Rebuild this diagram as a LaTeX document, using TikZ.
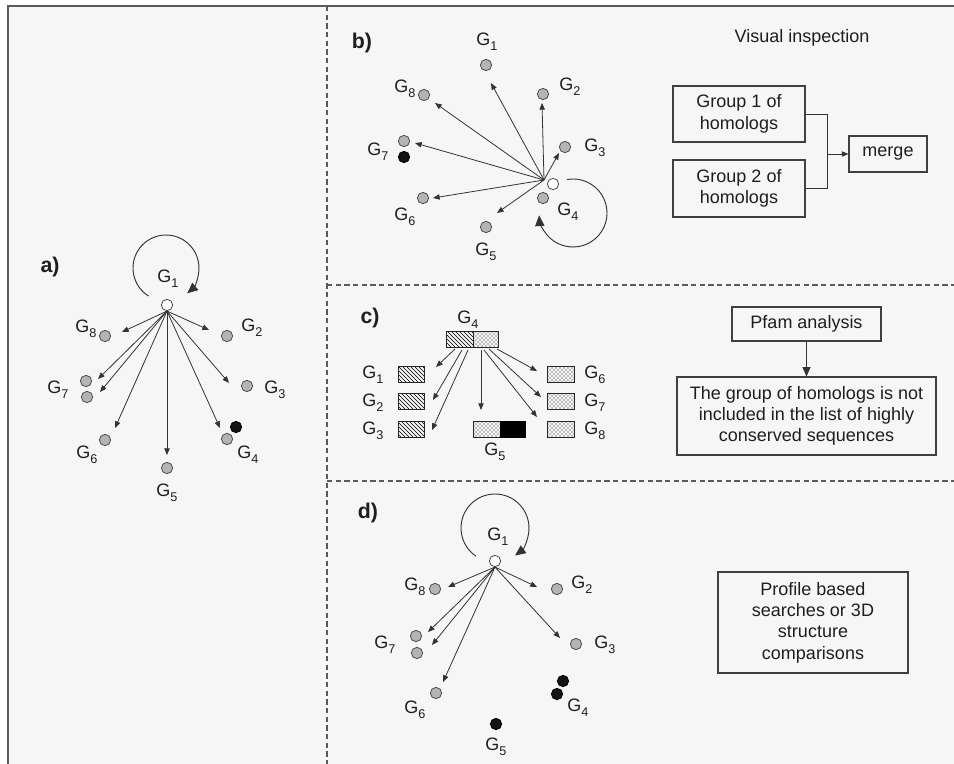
\documentclass[tikz,border=0pt]{standalone}
\usepackage{fontspec}
\setmainfont{Liberation Sans}
\usetikzlibrary{arrows.meta,patterns}
\definecolor{bgc}{HTML}{F6F6F6}
\definecolor{linec}{HTML}{333333}
\definecolor{framec}{HTML}{5A5A5A}
\definecolor{dotgray}{HTML}{B4B4B4}
\definecolor{txt}{HTML}{1E1E1E}
\newcommand{\gsub}[1]{G\raisebox{-0.5ex}{\fontsize{9.5}{9.5}\selectfont #1}}
\begin{document}
\begin{tikzpicture}[x=0.75pt,y=-0.75pt,
  gnode/.style={circle,draw=black!70,fill=dotgray,line width=0.6pt,minimum size=8.5pt,inner sep=0pt},
  bnode/.style={circle,draw=black,fill=black!92,line width=0.6pt,minimum size=8.5pt,inner sep=0pt},
  wnode/.style={circle,draw=black!70,fill=white,line width=0.6pt,minimum size=8.5pt,inner sep=0pt},
  glabel/.style={font=\fontsize{13.5}{13.5}\selectfont,inner sep=0pt,text=txt},
  plabel/.style={font=\fontsize{16}{16}\selectfont\bfseries,inner sep=0pt,text=txt},
  arr/.style={draw=linec,line width=0.6pt,-{Triangle[length=5pt,width=4pt]}},
  looparr/.style={draw=linec,line width=0.7pt,-{Triangle[length=8pt,width=7pt]}},
  box/.style={draw=black!75,line width=0.8pt,fill=bgc,align=center,inner sep=0pt,text=txt,font=\fontsize{13.5}{16}\selectfont},
  divider/.style={draw=framec,line width=0.8pt,dash pattern=on 4pt off 2.5pt},
  hatchbox/.style={draw=black!85,line width=0.6pt,pattern=north west lines,pattern color=black,minimum height=12pt,inner sep=0pt},
  dotbox/.style={draw=black!85,line width=0.6pt,pattern=crosshatch dots,pattern color=black,minimum height=12pt,inner sep=0pt},
  blackbox/.style={draw=black,line width=0.6pt,fill=black,minimum height=12pt,inner sep=0pt},
]
\useasboundingbox (0,0) rectangle (954,764);
\fill[white] (0,0) rectangle (954,764);
\fill[bgc] (8,6) rectangle (954,764);
\draw[framec,line width=1.5pt] (8,764) -- (8,6) -- (954,6);
\draw[divider] (327,6) -- (327,764);
\draw[divider] (327,285) -- (954,285);
\draw[divider] (327,481) -- (954,481);

% ---------------- panel a
\node[plabel] (la) at (50,267) {a)};
\node[glabel] (la1) at (168,279) {\gsub{1}};
\node[wnode] (a1) at (167,305) {};
\node[gnode] (a8) at (105,336) {};
\node[gnode] (a2) at (227,336) {};
\node[gnode] (a7) at (86,381) {};
\node[gnode] (a7b) at (87,397) {};
\node[gnode] (a3) at (247,386) {};
\node[gnode] (a6) at (105,440) {};
\node[gnode] (a4) at (227,439) {};
\node[bnode] (a4b) at (236,427) {};
\node[gnode] (a5) at (167,468) {};
\node[glabel] (la8) at (86,329) {\gsub{8}};
\node[glabel] (la2) at (252,328) {\gsub{2}};
\node[glabel] (la7) at (58,390) {\gsub{7}};
\node[glabel] (la3) at (275,390) {\gsub{3}};
\node[glabel] (la6) at (87,455) {\gsub{6}};
\node[glabel] (la4) at (248,455) {\gsub{4}};
\node[glabel] (la5) at (167,493) {\gsub{5}};
\coordinate (ta8) at (122,332);
\coordinate (ta2) at (209,330);
\coordinate (ta7) at (98,379);
\coordinate (ta7b) at (100,392);
\coordinate (ta6) at (115,428);
\coordinate (ta5) at (167,455);
\coordinate (ta4) at (220,428);
\coordinate (ta3) at (229,383);
\foreach \t in {ta8,ta2,ta7,ta7b,ta6,ta5,ta4,ta3} \draw[arr] (a1.south) -- (\t);
\coordinate (ca) at (166,268);
\draw[looparr] ([shift={(122:33)}]ca) arc[start angle=122,end angle=410,radius=33];

% ---------------- panel b
\node[plabel] (lb) at (362,43) {b)};
\node[wnode] (bw) at (553,184) {};
\coordinate (bo) at (544,180);
\node[gnode] (b1) at (486,65) {};
\node[gnode] (b8) at (424,95) {};
\node[gnode] (b2) at (543,94) {};
\node[gnode] (b7) at (404,141) {};
\node[bnode] (b7b) at (404,157) {};
\node[gnode] (b3) at (565,147) {};
\node[gnode] (b4) at (543,198) {};
\node[gnode] (b6) at (423,198) {};
\node[gnode] (b5) at (486,227) {};
\node[glabel] (lb1) at (487,42) {\gsub{1}};
\node[glabel] (lb8) at (405,89) {\gsub{8}};
\node[glabel] (lb2) at (570,87) {\gsub{2}};
\node[glabel] (lb7) at (378,152) {\gsub{7}};
\node[glabel] (lb3) at (595,148) {\gsub{3}};
\node[glabel] (lb4) at (568,212) {\gsub{4}};
\node[glabel] (lb6) at (405,217) {\gsub{6}};
\node[glabel] (lb5) at (486,252) {\gsub{5}};
\coordinate (tb1) at (491,83);
\coordinate (tb2) at (542,103);
\coordinate (tb8) at (435,103);
\coordinate (tb7) at (415,143);
\coordinate (tb3) at (559,153);
\coordinate (tb6) at (433,198);
\coordinate (tb5) at (497,213);
\foreach \t in {tb1,tb2,tb8,tb7,tb3,tb6,tb5} \draw[arr] (bo) -- (\t);
\coordinate (cb) at (573,213);
\draw[looparr] ([shift={(-100:34)}]cb) arc[start angle=-100,end angle=176,radius=34];

\node[text=txt,font=\fontsize{13.5}{16}\selectfont,inner sep=0pt] (vis) at (802,38) {Visual inspection};
\node[box,minimum width=99pt,minimum height=42pt] (grp1) at (739,114) {Group 1 of\\homologs};
\node[box,minimum width=99pt,minimum height=42.75pt] (grp2) at (739,188.5) {Group 2 of\\homologs};
\node[box,minimum width=58.5pt,minimum height=27pt] (merge) at (888,154) {merge};
\coordinate (jn) at (827,154);
\draw[draw=linec,line width=0.7pt] (grp1.east) -| (jn);
\draw[draw=linec,line width=0.7pt] (grp2.east) -| (jn);
\draw[arr] (jn) -- (merge.west);

% ---------------- panel c
\node[plabel] (lc) at (370,318) {c)};
\node[glabel] (lc4) at (468,320) {\gsub{4}};
\node[hatchbox,minimum width=20.25pt] (c4l) at (459.5,339) {};
\node[dotbox,minimum width=18.75pt] (c4r) at (485.5,339) {};
\node[hatchbox,minimum width=19.5pt] (c1) at (411,374) {};
\node[hatchbox,minimum width=19.5pt] (c2) at (411,401.5) {};
\node[hatchbox,minimum width=19.5pt] (c3) at (411,429.5) {};
\node[dotbox,minimum width=20.25pt] (c6) at (560.5,374) {};
\node[dotbox,minimum width=20.25pt] (c7) at (560.5,401.5) {};
\node[dotbox,minimum width=20.25pt] (c8) at (560.5,429.5) {};
\node[dotbox,minimum width=20.25pt] (c5) at (486.5,429.5) {};
\node[blackbox,minimum width=18.75pt] (c5b) at (512.5,429.5) {};
\node[glabel] (lc1) at (373,375) {\gsub{1}};
\node[glabel] (lc2) at (373,403) {\gsub{2}};
\node[glabel] (lc3) at (373,431) {\gsub{3}};
\node[glabel] (lc6) at (595,375) {\gsub{6}};
\node[glabel] (lc7) at (595,403) {\gsub{7}};
\node[glabel] (lc8) at (595,431) {\gsub{8}};
\node[glabel] (lc5) at (495,452) {\gsub{5}};
\coordinate (sc1) at (455,349);
\coordinate (sc2) at (462,350);
\coordinate (sc3) at (468,350);
\coordinate (sc5) at (481,350);
\coordinate (sc8) at (484,350);
\coordinate (sc7) at (489,349);
\coordinate (sc6) at (497,349);
\coordinate (tc1) at (436,367);
\coordinate (tc2) at (433,400);
\coordinate (tc3) at (432,430);
\coordinate (tc5) at (481,410);
\coordinate (tc8) at (537,417);
\coordinate (tc7) at (541,397);
\coordinate (tc6) at (537,371);
\foreach \s/\t in {sc1/tc1,sc2/tc2,sc3/tc3,sc5/tc5,sc8/tc8,sc7/tc7,sc6/tc6} \draw[arr] (\s) -- (\t);

\node[box,minimum width=111.75pt,minimum height=25.5pt] (pfam) at (806.5,324) {Pfam analysis};
\node[box,minimum width=194.25pt,minimum height=58.5pt] (res) at (806.5,416) {The group of homologs is not\\included in the list of highly\\conserved sequences};
\draw[arr,-{Triangle[length=7pt,width=6pt]}] (pfam.south) -- (res.north);

% ---------------- panel d
\node[plabel] (ld) at (368,513) {d)};
\node[glabel] (ld1) at (498,537) {\gsub{1}};
\node[wnode] (d1) at (495,561) {};
\node[gnode] (d8) at (435,589) {};
\node[gnode] (d2) at (557,589) {};
\node[gnode] (d7) at (416,636) {};
\node[gnode] (d7b) at (417,653) {};
\node[gnode] (d3) at (576,644) {};
\node[gnode] (d6) at (436,693) {};
\node[bnode] (d4) at (563,681) {};
\node[bnode] (d4b) at (557,694) {};
\node[bnode] (d5) at (496,724) {};
\node[glabel] (ld8) at (415,587) {\gsub{8}};
\node[glabel] (ld2) at (582,585) {\gsub{2}};
\node[glabel] (ld7) at (385,645) {\gsub{7}};
\node[glabel] (ld3) at (605,645) {\gsub{3}};
\node[glabel] (ld6) at (415,710) {\gsub{6}};
\node[glabel] (ld4) at (578,708) {\gsub{4}};
\node[glabel] (ld5) at (496,747) {\gsub{5}};
\coordinate (td8) at (448,587);
\coordinate (td2) at (537,587);
\coordinate (td7) at (428,632);
\coordinate (td7b) at (432,645);
\coordinate (td6) at (443,682);
\coordinate (td3) at (560,638);
\foreach \t in {td8,td2,td7,td7b,td6,td3} \draw[arr] (d1.south) -- (\t);
\coordinate (cd) at (495,528);
\draw[looparr] ([shift={(124:34)}]cd) arc[start angle=124,end angle=414,radius=34];

\node[box,minimum width=142.5pt,minimum height=75.75pt] (prof) at (813,622.5) {Profile based\\searches or 3D\\structure\\comparisons};
\end{tikzpicture}
\end{document}
